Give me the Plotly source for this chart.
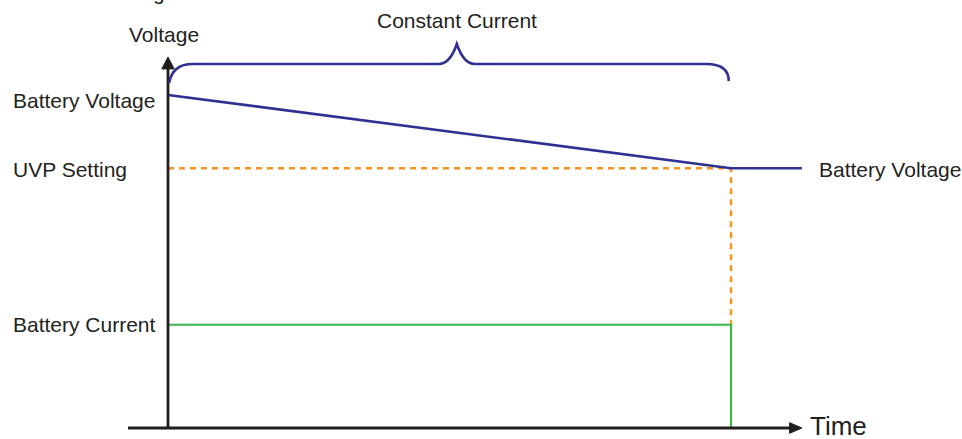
import plotly.graph_objects as go

# ---- diagram data (abstract units) ----
t_start = 0.0          # start of discharge
t_uvp = 100.0          # time when UVP setting is reached
t_end = 112.6          # end of time axis / battery voltage tail
v_start = 100.0        # battery voltage at start
v_uvp = 78.0           # UVP setting level
i_level = 31.0         # battery current level
axis_top = 111.4       # top of voltage axis
axis_left = -7.1       # left end of time axis

volt_t = [t_start, t_uvp, t_end]
volt_v = [v_start, v_uvp, v_uvp]
uvp_t = [t_start, t_uvp, t_uvp]
uvp_v = [v_uvp, v_uvp, i_level]
cur_t = [t_start, t_uvp, t_uvp]
cur_v = [i_level, i_level, 0.0]

left_labels = ["Battery Voltage", "UVP Setting", "Battery Current"]
left_label_y = [98.2, 77.5, 31.2]

# brace parameters
brace_flat = 109.3
brace_tip = 115.3
brace_end_l = 103.6
brace_end_r = 104.2

BLUE = "#2e3192"
ORANGE = "#f7941d"
GREEN = "#3cb54a"
INK = "#231f20"
FONT = "Liberation Sans, Arial, sans-serif"

fig = go.Figure()
fig.add_trace(go.Scatter(x=uvp_t, y=uvp_v, mode="lines",
                         line=dict(color=ORANGE, width=2.5, dash="6px,5px"), hoverinfo="skip"))
fig.add_trace(go.Scatter(x=cur_t, y=cur_v, mode="lines",
                         line=dict(color=GREEN, width=2.2), hoverinfo="skip"))
fig.add_trace(go.Scatter(x=volt_t, y=volt_v, mode="lines",
                         line=dict(color=BLUE, width=2.6), hoverinfo="skip"))

shapes = []
# axes
shapes.append(dict(type="line", x0=t_start, x1=t_start, y0=0, y1=axis_top - 3,
                   line=dict(color=INK, width=2.8), layer="above"))
shapes.append(dict(type="line", x0=axis_left, x1=t_end - 1.5, y0=0, y1=0,
                   line=dict(color=INK, width=2.8), layer="above"))
# arrowheads
shapes.append(dict(type="path",
                   path=f"M {t_start-1.1} {axis_top-3.6} L {t_start} {axis_top} L {t_start+1.1} {axis_top-3.6} Z",
                   fillcolor=INK, line=dict(color=INK, width=1), layer="above"))
shapes.append(dict(type="path",
                   path=f"M {t_end-2.2} 1.6 L {t_end} 0 L {t_end-2.2} -1.6 Z",
                   fillcolor=INK, line=dict(color=INK, width=1), layer="above"))
# brace
mid = (t_start + t_uvp) / 2 + 1.3
bl = t_start + 0.2
br = t_uvp - 0.4
path = (f"M {bl} {brace_end_l} "
        f"Q {bl+0.6} {brace_flat} {bl+4.2} {brace_flat} "
        f"L {mid-3.2} {brace_flat} "
        f"Q {mid-1.2} {brace_flat} {mid} {brace_tip} "
        f"Q {mid+1.2} {brace_flat} {mid+3.2} {brace_flat} "
        f"L {br-4.0} {brace_flat} "
        f"Q {br} {brace_flat} {br} {brace_end_r}")
shapes.append(dict(type="path", path=path, line=dict(color=BLUE, width=2.6), layer="above"))

FS = 21
annotations = []
for lab, ly in zip(left_labels, left_label_y):
    annotations.append(dict(x=-27.9, y=ly, text=lab, showarrow=False,
                            xanchor="left", yanchor="middle",
                            font=dict(family=FONT, size=FS, color=INK)))
annotations.append(dict(x=t_end + 2.6, y=77.5, text="Battery Voltage", showarrow=False,
                        xanchor="left", yanchor="middle",
                        font=dict(family=FONT, size=FS, color=INK)))
annotations.append(dict(x=t_start - 0.8, y=118.2, text="Voltage", showarrow=False,
                        xanchor="center", yanchor="middle",
                        font=dict(family=FONT, size=FS, color=INK)))
annotations.append(dict(x=mid, y=122.2, text="Constant Current", showarrow=False,
                        xanchor="center", yanchor="middle",
                        font=dict(family=FONT, size=FS, color=INK)))
annotations.append(dict(x=t_end + 1.0, y=0.6, text="Time", showarrow=False,
                        xanchor="left", yanchor="middle",
                        font=dict(family=FONT, size=26, color=INK)))
# partially visible text clipped at the top edge of the original image
annotations.append(dict(xref="paper", yref="paper", x=0.1653, y=1.0178, text="g",
                        showarrow=False, xanchor="center", yanchor="middle",
                        font=dict(family=FONT, size=FS, color=INK)))

fig.update_layout(
    width=962, height=439,
    margin=dict(l=0, r=0, t=0, b=0),
    paper_bgcolor="white", plot_bgcolor="white",
    showlegend=False,
    shapes=shapes, annotations=annotations,
    xaxis=dict(range=[-29.84, 141.03], visible=False, fixedrange=True),
    yaxis=dict(range=[-3.3, 128.5], visible=False, fixedrange=True),
)

fig.write_html("out.html", config={"displayModeBar": False},
               post_script="document.body.style.margin='0';document.body.style.padding='0';document.body.style.overflow='hidden';")
